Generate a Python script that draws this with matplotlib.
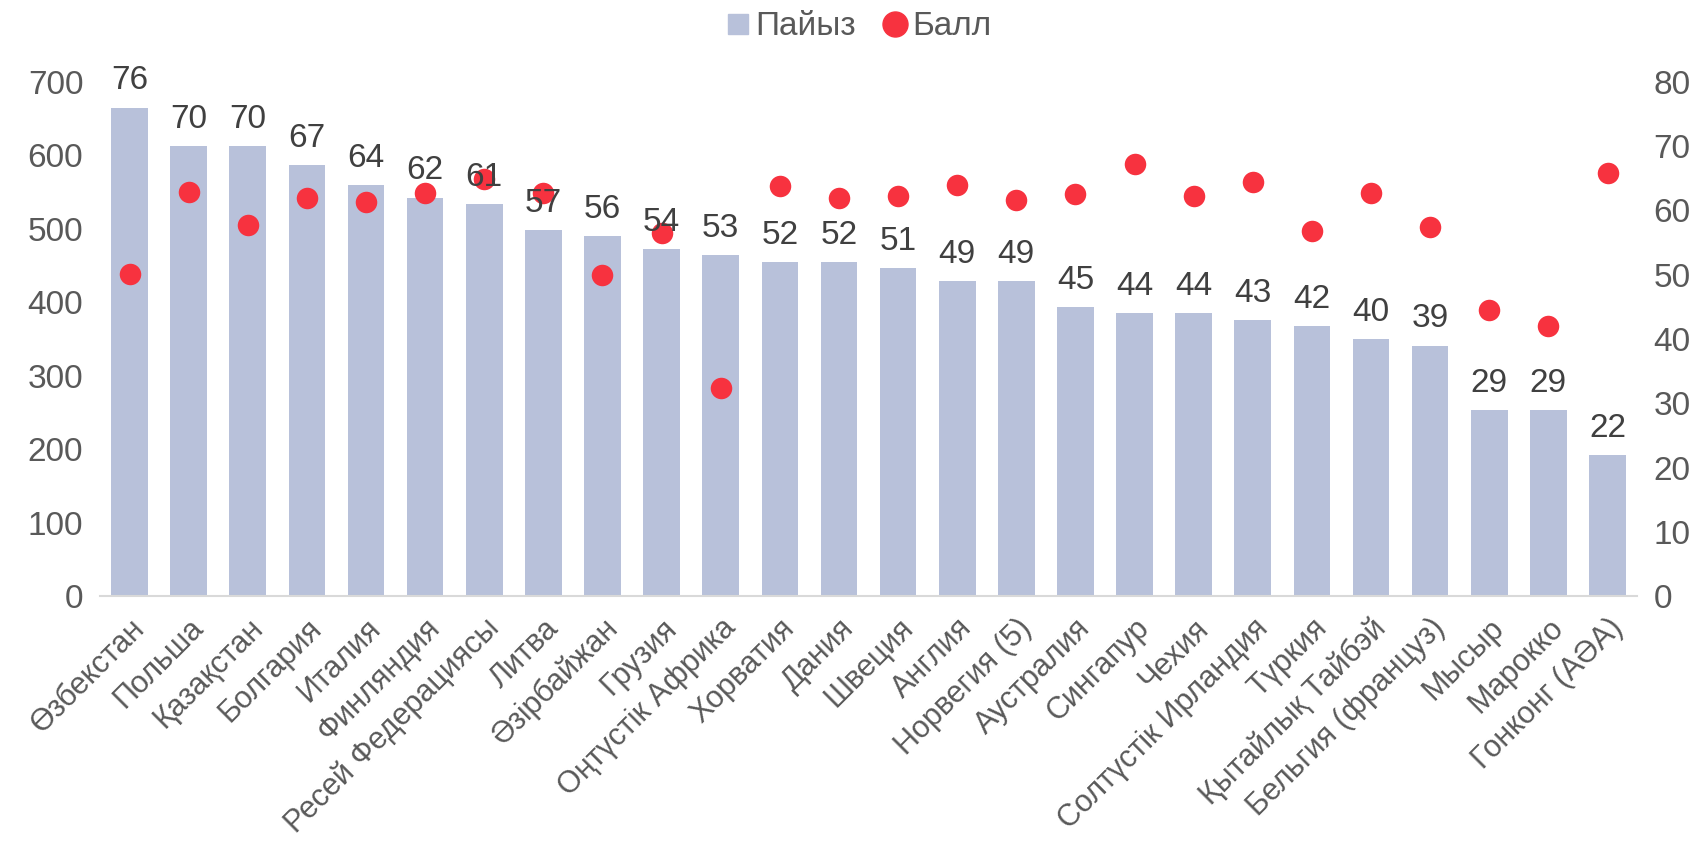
import matplotlib.pyplot as plt
from matplotlib.lines import Line2D

plt.rcParams['font.family'] = ['Liberation Sans', 'DejaVu Sans']

countries = ['Өзбекстан', 'Польша', 'Қазақстан', 'Болгария', 'Италия', 'Финляндия',
             'Ресей Федерациясы', 'Литва', 'Әзірбайжан', 'Грузия', 'Оңтүстік Африка',
             'Хорватия', 'Дания', 'Швеция', 'Англия', 'Норвегия (5)', 'Аустралия',
             'Сингапур', 'Чехия', 'Солтүстік Ирландия', 'Түркия', 'Қытайлық Тайбэй',
             'Бельгия (француз)', 'Мысыр', 'Марокко', 'Гонконг (АӘА)']
percent = [76, 70, 70, 67, 64, 62, 61, 57, 56, 54, 53, 52, 52, 51, 49, 49, 45, 44, 44,
           43, 42, 40, 39, 29, 29, 22]
score = [438, 550, 505, 542, 537, 549, 568, 549, 437, 494, 283, 558, 542, 544, 559,
         539, 547, 588, 545, 564, 497, 549, 502, 389, 368, 576]

bar_color = '#B8C1DA'
dot_color = '#F7323F'
txt = '#595959'

fig = plt.figure(figsize=(17.06, 8.52), dpi=100)
ax = fig.add_axes([0.0586, 0.300, 0.901, 0.604])
x = list(range(len(countries)))

# bars use percent scale (right side)
ax.bar(x, percent, width=0.62, color=bar_color)
ax.set_ylim(0, 80)
ax.set_xlim(-0.5, len(countries) - 0.5)
ax.set_yticks(range(0, 81, 10))

ax2 = ax.twinx()
ax2.scatter(x, score, s=240, color=dot_color, zorder=3, linewidths=0)
ax2.set_ylim(0, 700)
ax2.set_yticks(range(0, 701, 100))
ax2.yaxis.tick_left()
ax.yaxis.tick_right()

for i, v in enumerate(percent):
    ax2.annotate(str(v), xy=(i, v), xycoords=ax.transData, xytext=(0, 8),
                 textcoords='offset points', ha='center', va='bottom',
                 fontsize=24, color='#404040', zorder=5)

for a in (ax, ax2):
    for s in ('top', 'left', 'right', 'bottom'):
        a.spines[s].set_visible(False)
    a.tick_params(axis='y', length=0, labelsize=24, labelcolor=txt, pad=12)
ax.spines['bottom'].set_visible(True)
ax.spines['bottom'].set_color('#D9D9D9')
ax.spines['bottom'].set_linewidth(1.5)

ax.set_xticks(x)
ax.set_xticklabels(countries, rotation=45, ha='right', rotation_mode='anchor',
                   fontsize=22, color=txt)
ax.tick_params(axis='x', length=0, pad=12)

handles = [Line2D([], [], marker='s', linestyle='none', color=bar_color, markersize=14),
           Line2D([], [], marker='o', linestyle='none', color=dot_color, markersize=18)]
fig.legend(handles, ['Пайыз', 'Балл'], loc='upper center', bbox_to_anchor=(0.503, 1.022),
           ncol=2, frameon=False, fontsize=24, labelcolor=txt, handletextpad=0.1,
           columnspacing=0.8, handlelength=0.8)

fig.savefig('out.png', dpi=100)
